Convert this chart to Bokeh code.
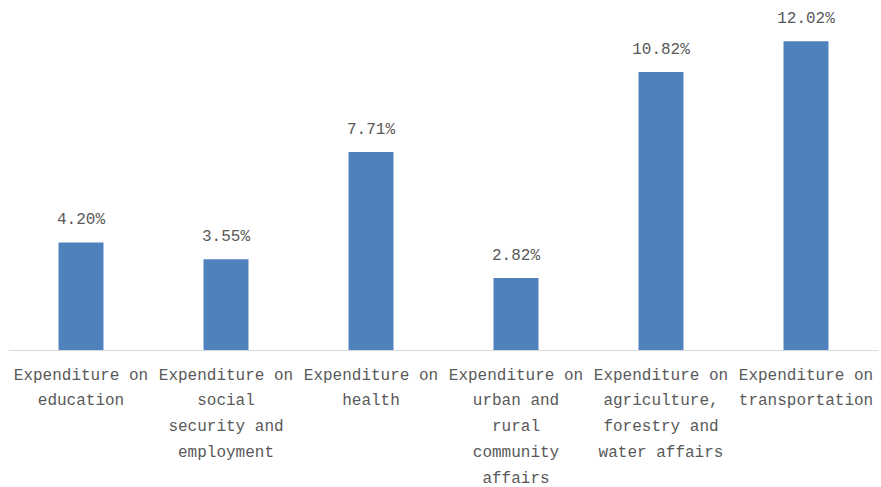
from bokeh.plotting import figure
from bokeh.models import FactorRange, Range1d, Span, ColumnDataSource
from bokeh.core.properties import value
from bokeh.embed import file_html
from bokeh.resources import INLINE

categories = [
    "Expenditure on\neducation",
    "Expenditure on\nsocial\nsecurity and\nemployment",
    "Expenditure on\nhealth",
    "Expenditure on\nurban and\nrural\ncommunity\naffairs",
    "Expenditure on\nagriculture,\nforestry and\nwater affairs",
    "Expenditure on\ntransportation",
]
keys = ["c1", "c2", "c3", "c4", "c5", "c6"]
values = [4.20, 3.55, 7.71, 2.82, 10.82, 12.02]
value_labels = ["4.20%", "3.55%", "7.71%", "2.82%", "10.82%", "12.02%"]

FONT = value("Liberation Mono")
GREY = "#595959"

src = ColumnDataSource(dict(x=keys, top=values, lab=value_labels, cat=categories, zero=[0] * 6))

p = figure(
    x_range=FactorRange(*keys, range_padding=0),
    y_range=Range1d(-5.32, 13.60),
    width=881, height=487,
    output_backend="svg", toolbar_location=None,
    x_axis_location=None, y_axis_location=None,
    min_border=0, min_border_left=8, min_border_right=3,
)
p.outline_line_color = None
p.grid.visible = False
p.background_fill_color = "white"
p.border_fill_color = "white"

p.vbar(x="x", top="top", bottom=0, width=0.31, source=src,
       fill_color="#4F81BD", line_color=None)

p.add_layout(Span(location=0, dimension="width", line_color="#D9D9D9", line_width=1))

p.text(x="x", y="top", text="lab", source=src, text_font=FONT,
       text_font_size="16px", text_color=GREY, text_align="center",
       text_baseline="middle", y_offset=-22)

p.text(x="x", y="zero", text="cat", source=src, text_font=FONT,
       text_font_size="16px", text_color=GREY, text_align="center",
       text_baseline="top", y_offset=16, text_line_height=1.43)

open("out.html", "w").write(file_html(p, INLINE))
